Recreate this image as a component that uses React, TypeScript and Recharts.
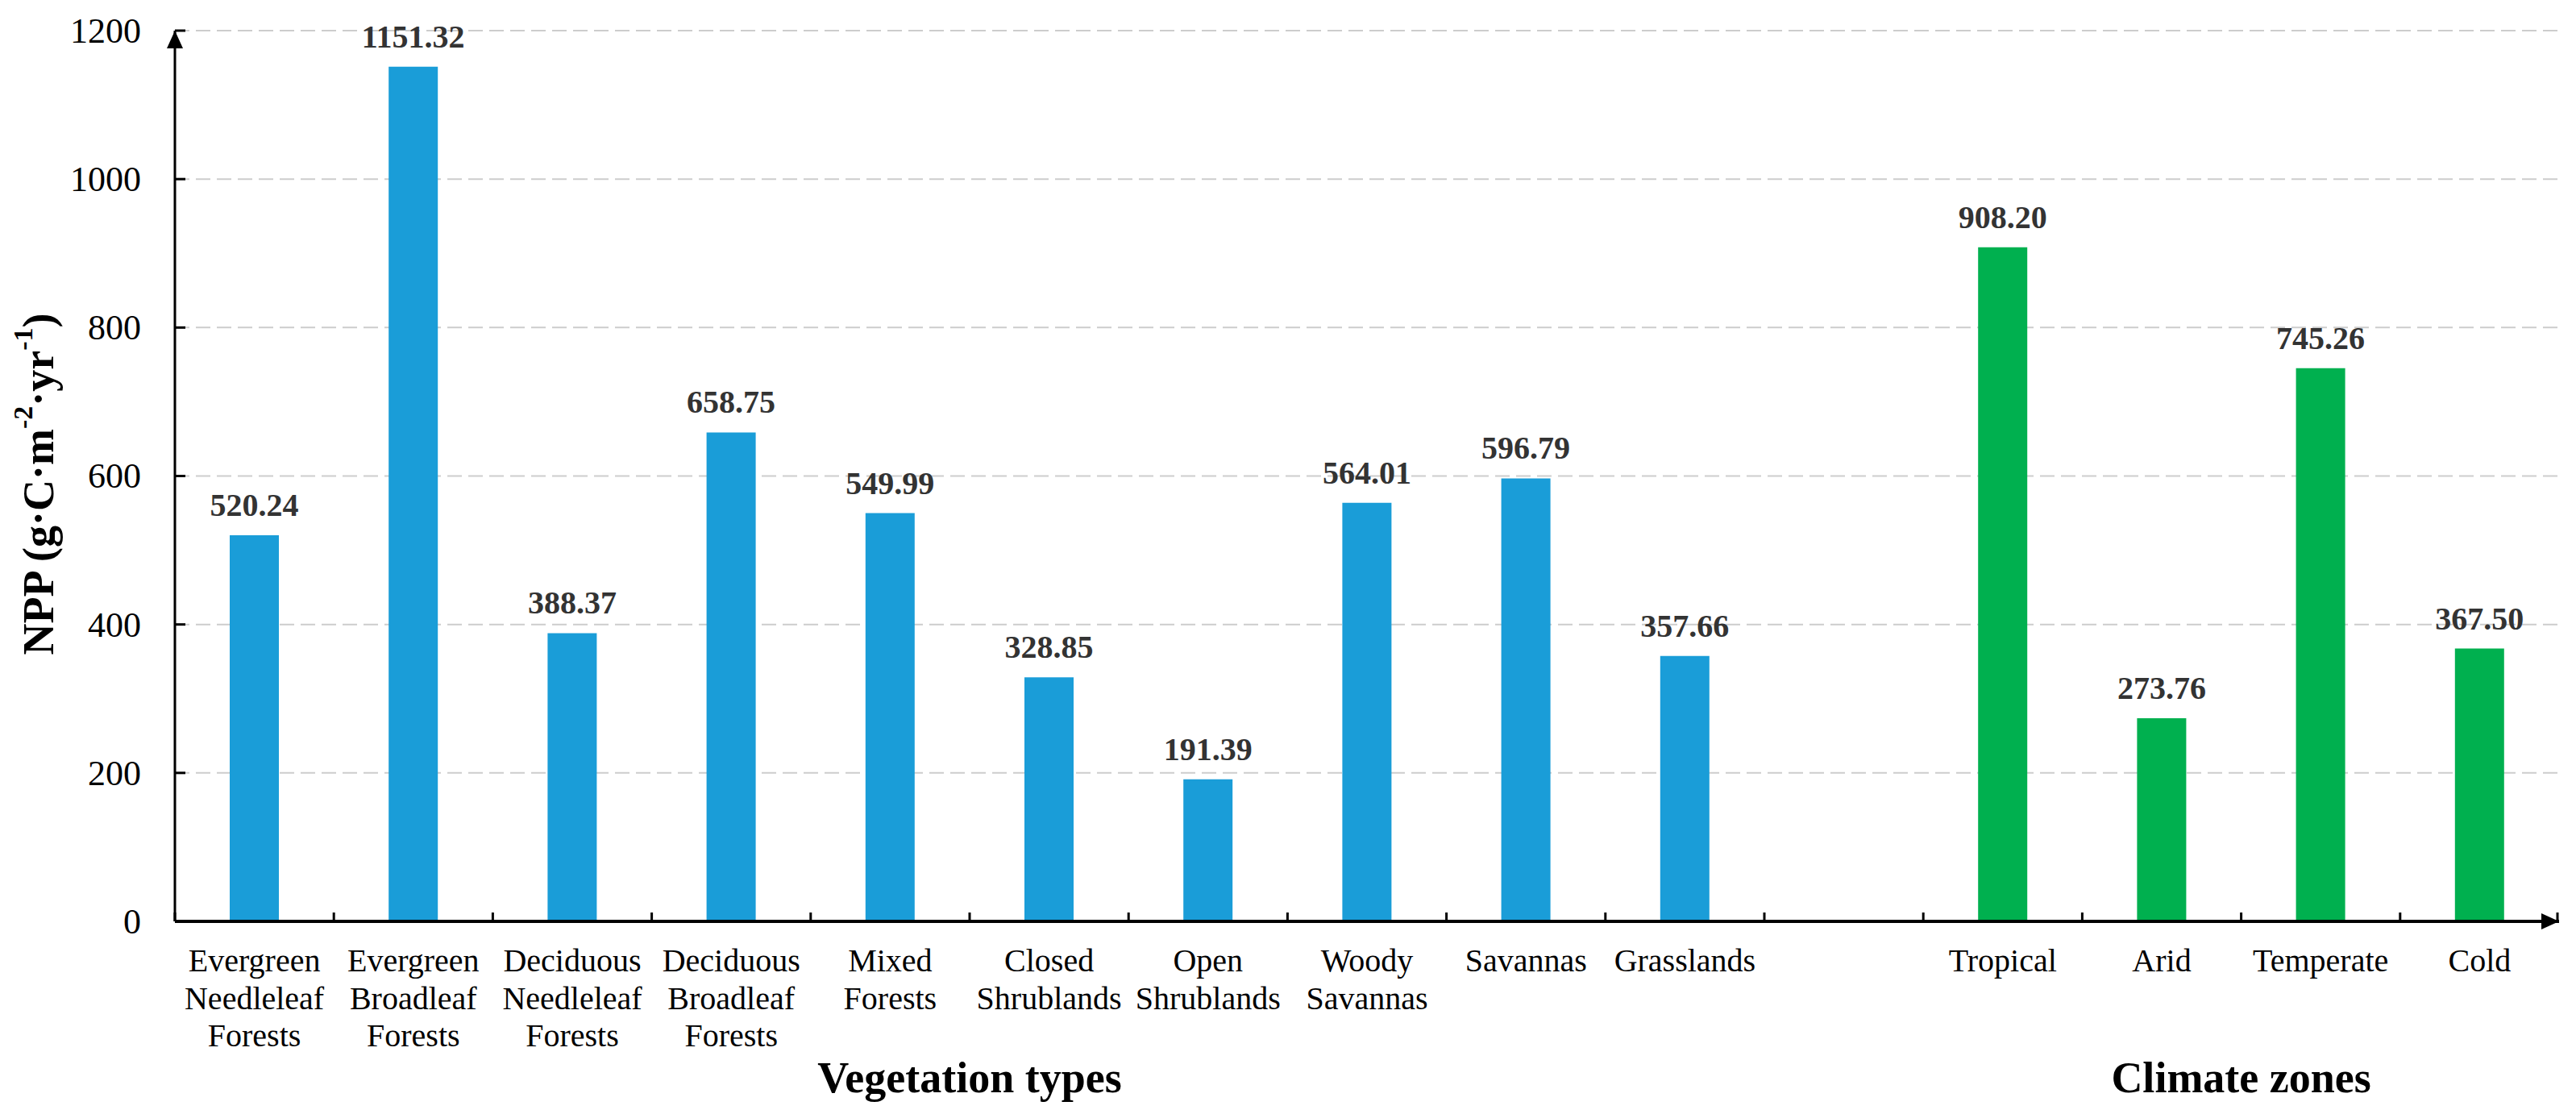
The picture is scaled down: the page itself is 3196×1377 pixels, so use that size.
import React from 'react';
import { BarChart, Bar, XAxis, YAxis, CartesianGrid, Cell, LabelList } from 'recharts';

// ---- data ----
const vegetationTypes = [
  'Evergreen Needleleaf Forests',
  'Evergreen Broadleaf Forests',
  'Deciduous Needleleaf Forests',
  'Deciduous Broadleaf Forests',
  'Mixed Forests',
  'Closed Shrublands',
  'Open Shrublands',
  'Woody Savannas',
  'Savannas',
  'Grasslands',
];
const vegetationNPP = [520.24, 1151.32, 388.37, 658.75, 549.99, 328.85, 191.39, 564.01, 596.79, 357.66];

const climateZones = ['Tropical', 'Arid', 'Temperate', 'Cold'];
const climateNPP = [908.2, 273.76, 745.26, 367.5];

const vegetationTickLabels = [
  ['Evergreen', 'Needleleaf', 'Forests'],
  ['Evergreen', 'Broadleaf', 'Forests'],
  ['Deciduous', 'Needleleaf', 'Forests'],
  ['Deciduous', 'Broadleaf', 'Forests'],
  ['Mixed', 'Forests'],
  ['Closed', 'Shrublands'],
  ['Open', 'Shrublands'],
  ['Woody', 'Savannas'],
  ['Savannas'],
  ['Grasslands'],
];
const climateTickLabels = [['Tropical'], ['Arid'], ['Temperate'], ['Cold']];

const yTicks = [0, 200, 400, 600, 800, 1000, 1200];
const GAP_KEY = ' ';

const VEG_COLOR = '#1a9dd8';
const CLIM_COLOR = '#00b04f';
const FONT = "'Times New Roman', 'Liberation Serif', serif";

const data = [
  ...vegetationTypes.map((c, i) => ({ category: c, value: vegetationNPP[i], group: 'veg' })),
  { category: GAP_KEY, value: null as number | null, group: 'gap' },
  ...climateZones.map((c, i) => ({ category: c, value: climateNPP[i], group: 'clim' })),
];

const labelLines: Record<string, string[]> = {};
vegetationTypes.forEach((c, i) => (labelLines[c] = vegetationTickLabels[i]));
climateZones.forEach((c, i) => (labelLines[c] = climateTickLabels[i]));
labelLines[GAP_KEY] = [];

const lastCategory = data[data.length - 1].category;

function CategoryTick(props: any) {
  const { x, y, payload } = props;
  const half = typeof payload?.offset === 'number' && payload.offset > 0 ? payload.offset : 98.6;
  const lines = labelLines[payload.value] || [];
  const isLast = payload.value === lastCategory;
  return (
    <g>
      <line x1={x - half} x2={x - half} y1={y} y2={y - 11} stroke="#000" strokeWidth={3} />
      {isLast && <line x1={x + half - 2} x2={x + half - 2} y1={y} y2={y - 11} stroke="#000" strokeWidth={3} />}
      <text x={x} y={y + 62} textAnchor="middle" fontSize={40} fontFamily={FONT} fill="#000">
        {lines.map((l, i) => (
          <tspan key={i} x={x} dy={i === 0 ? 0 : 46.7}>
            {l}
          </tspan>
        ))}
      </text>
    </g>
  );
}

function ValueTick(props: any) {
  const { x, y, payload } = props;
  return (
    <g>
      {payload.value !== 0 && <line x1={x} x2={x + 13} y1={y} y2={y} stroke="#000" strokeWidth={3} />}
      <text x={x - 42} y={y} dy="0.34em" textAnchor="end" fontSize={44} fontFamily={FONT} fill="#000">
        {payload.value}
      </text>
    </g>
  );
}

function XTitles(props: any) {
  const vb = props.viewBox || { x: 217, y: 1143, width: 2958, height: 234 };
  const total = data.length;
  const vegCenter = vb.x + (vb.width * (vegetationTypes.length / 2)) / total;
  const climCenter = vb.x + (vb.width * (vegetationTypes.length + 1 + climateZones.length / 2)) / total;
  const ty = vb.y + 212;
  return (
    <g>
      <text x={vegCenter} y={ty} textAnchor="middle" fontSize={54} fontWeight="bold" fontFamily={FONT} fill="#000">
        Vegetation types
      </text>
      <text x={climCenter} y={ty} textAnchor="middle" fontSize={54} fontWeight="bold" fontFamily={FONT} fill="#000">
        Climate zones
      </text>
    </g>
  );
}

function YTitle(props: any) {
  const vb = props.viewBox || { x: 0, y: 38, width: 217, height: 1105 };
  const cx = vb.x + 48;
  const cy = vb.y + vb.height / 2 + 10;
  return (
    <text
      x={cx}
      y={cy}
      transform={`rotate(-90, ${cx}, ${cy})`}
      textAnchor="middle"
      dominantBaseline="central"
      fontSize={54}
      fontWeight="bold"
      fontFamily={FONT}
      fill="#000"
    >
      <tspan>NPP (g·C·m</tspan>
      <tspan fontSize={34} dy={-20}>-2</tspan>
      <tspan dy={20}>·yr</tspan>
      <tspan fontSize={34} dy={-20}>-1</tspan>
      <tspan dy={20}>)</tspan>
    </text>
  );
}

export default function App() {
  return (
    <div style={{ position: 'absolute', left: 0, top: 0, background: '#fff' }}>
      <BarChart
        width={3196}
        height={1377}
        data={data}
        margin={{ top: 38, right: 21, bottom: 0, left: 0 }}
      >
        <defs>
          <marker
            id="axisArrow"
            viewBox="0 0 11 10"
            refX="11"
            refY="5"
            markerWidth="22"
            markerHeight="20"
            markerUnits="userSpaceOnUse"
            orient="auto-start-reverse"
          >
            <path d="M0,0 L11,5 L0,10 z" fill="#000" />
          </marker>
        </defs>
        <CartesianGrid vertical={false} strokeDasharray="18 8" stroke="#cdcdcd" strokeWidth={2} />
        <XAxis
          dataKey="category"
          type="category"
          interval={0}
          height={234}
          tickSize={0}
          tickMargin={0}
          tickLine={false}
          axisLine={{ stroke: '#000', strokeWidth: 4, markerEnd: 'url(#axisArrow)' }}
          tick={<CategoryTick />}
          label={{ content: (p: any) => <XTitles {...p} /> }}
        />
        <YAxis
          type="number"
          domain={[0, 1200]}
          ticks={yTicks}
          width={217}
          tickSize={0}
          tickMargin={0}
          tickLine={false}
          axisLine={{ stroke: '#000', strokeWidth: 3, markerStart: 'url(#axisArrow)' }}
          tick={<ValueTick />}
          label={{ content: (p: any) => <YTitle {...p} /> }}
        />
        <Bar dataKey="value" barSize={61} isAnimationActive={false}>
          {data.map((d, i) => (
            <Cell key={i} fill={d.group === 'clim' ? CLIM_COLOR : VEG_COLOR} />
          ))}
          <LabelList
            dataKey="value"
            position="top"
            offset={24}
            formatter={(v: any) => (v == null ? '' : Number(v).toFixed(2))}
            fill="#333"
            fontSize={40}
            fontWeight="bold"
            fontFamily={FONT}
          />
        </Bar>
      </BarChart>
    </div>
  );
}
